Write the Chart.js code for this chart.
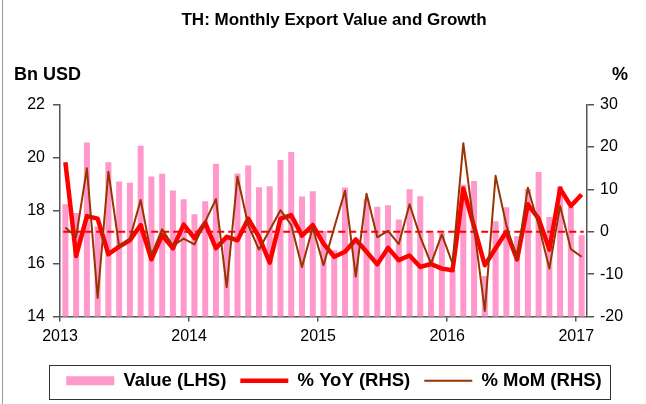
<!DOCTYPE html>
<html>
<head>
<meta charset="utf-8">
<title>TH: Monthly Export Value and Growth</title>
<script src="https://cdn.jsdelivr.net/npm/chart.js@4.4.0/dist/chart.umd.min.js"></script>
<style>
  html, body { margin: 0; padding: 0; background: #fff; }
  #wrap { position: relative; width: 646px; height: 404px; }
  #frame { position: absolute; left: 2px; top: 0; width: 1px; height: 404px; background: #999; }
</style>
</head>
<body>
<div id="wrap">
  <canvas id="chart" width="646" height="404"></canvas>
  <div id="frame"></div>
</div>
<script>
  // monthly categories, Jan 2013 .. Jan 2017
  const months = [
    "Jan-13", "Feb-13", "Mar-13", "Apr-13", "May-13", "Jun-13", "Jul-13", "Aug-13", "Sep-13", "Oct-13", "Nov-13", "Dec-13",
    "Jan-14", "Feb-14", "Mar-14", "Apr-14", "May-14", "Jun-14", "Jul-14", "Aug-14", "Sep-14", "Oct-14", "Nov-14", "Dec-14",
    "Jan-15", "Feb-15", "Mar-15", "Apr-15", "May-15", "Jun-15", "Jul-15", "Aug-15", "Sep-15", "Oct-15", "Nov-15", "Dec-15",
    "Jan-16", "Feb-16", "Mar-16", "Apr-16", "May-16", "Jun-16", "Jul-16", "Aug-16", "Sep-16", "Oct-16", "Nov-16", "Dec-16",
    "Jan-17"
  ];
  const yearLabels = ["2013", "2014", "2015", "2016", "2017"];

  // export value, Bn USD (LHS)
  const exportValue = [
    18.24, 17.91, 20.57, 17.4, 19.83, 19.1, 19.05, 20.45, 19.29, 19.39, 18.76, 18.43,
    17.86, 18.35, 19.77, 17.0, 19.4, 19.7, 18.88, 18.92, 19.91, 20.21, 18.53, 18.73,
    17.23, 16.5, 18.87, 16.8, 18.43, 18.15, 18.2, 17.66, 18.81, 18.54, 17.15, 17.15,
    15.75, 18.98, 19.12, 15.53, 17.6, 18.13, 17.03, 18.82, 19.46, 17.76, 18.92, 18.14,
    17.07
  ];
  // % YoY (RHS)
  const yoy = [
    16.4, -5.7, 3.7, 3.1, -5.3, -3.5, -2.0, 1.6, -6.5, -0.8, -3.9, 1.7,
    -1.5, 2.1, -3.9, -1.2, -2.0, 3.1, -1.2, -7.3, 3.1, 3.9, -0.9, 1.6,
    -2.8, -5.9, -4.7, -1.8, -4.7, -7.7, -3.8, -6.7, -5.6, -8.3, -7.6, -8.7,
    -9.1, 10.2, 1.2, -7.9, -3.9, 0.0, -6.5, 6.5, 3.1, -4.2, 10.2, 6.1,
    8.8
  ];
  // % MoM (RHS)
  const mom = [
    1.0, -1.2, 15.0, -15.6, 14.2, -3.5, -1.6, 7.5, -5.5, 0.6, -3.3, -1.6,
    -3.0, 2.4, 7.7, -13.1, 13.0, 1.6, -4.2, 0.4, 5.1, 1.6, -8.3, 1.0,
    -7.9, 1.0, 9.7, -10.6, 9.0, -1.3, 0.2, -2.9, 6.5, -1.2, -7.5, -0.6,
    -7.5, 20.9, 1.0, -18.7, 13.2, 1.6, -6.5, 10.4, 1.6, -8.7, 6.1, -4.1,
    -5.9
  ];

  const FONT = "'Liberation Sans', Arial, sans-serif";
  const AXIS = "#555";

  // put each month in the middle of its slot so the year ticks fall on January's left edge
  const toPoints = (arr) => arr.map((v, i) => ({ x: i + 0.5, y: v }));

  const zeroLine = {
    id: "zeroLine",
    afterDatasetDraw(chart, args) {
      if (args.index !== 0) return;
      const { ctx, scales } = chart;
      const y = scales.y1.getPixelForValue(0);
      ctx.save();
      ctx.strokeStyle = "#FF0000";
      ctx.lineWidth = 2;
      ctx.setLineDash([7, 4]);
      ctx.beginPath();
      ctx.moveTo(scales.x.getPixelForValue(0.3), y);
      ctx.lineTo(scales.x.getPixelForValue(months.length - 0.3), y);
      ctx.stroke();
      ctx.restore();
    }
  };

  const extras = {
    id: "extras",
    afterDraw(chart) {
      const { ctx, chartArea, legend } = chart;
      ctx.save();
      ctx.fillStyle = "#000";
      ctx.font = "bold 18px " + FONT;
      ctx.textBaseline = "middle";
      ctx.textAlign = "left";
      ctx.fillText("Bn USD", 14, chartArea.top - 30);
      ctx.fillText("%", chartArea.right + 25, chartArea.top - 30);

      // frame round the legend
      const boxes = legend.legendHitBoxes;
      if (boxes && boxes.length) {
        const left = Math.min(...boxes.map((b) => b.left)) - 17;
        const right = Math.max(...boxes.map((b) => b.left + b.width)) + 9;
        const top = boxes[0].top - 7;
        const bottom = boxes[0].top + boxes[0].height + 8;
        ctx.strokeStyle = "#333";
        ctx.lineWidth = 1;
        ctx.strokeRect(Math.round(left) + 0.5, Math.round(top) + 0.5, Math.round(right - left), Math.round(bottom - top));
      }
      ctx.restore();
    }
  };

  new Chart(document.getElementById("chart"), {
    type: "bar",
    data: {
      datasets: [
        {
          type: "bar",
          label: "Value (LHS)",
          data: toPoints(exportValue),
          yAxisID: "y",
          backgroundColor: "#FF99CC",
          borderWidth: 0,
          barPercentage: 0.7,
          categoryPercentage: 0.8,
          order: 3
        },
        {
          type: "line",
          label: "% YoY (RHS)",
          data: toPoints(yoy),
          yAxisID: "y1",
          borderColor: "#FF0000",
          borderWidth: 4.5,
          borderJoinStyle: "round",
          pointRadius: 0,
          tension: 0,
          order: 2
        },
        {
          type: "line",
          label: "% MoM (RHS)",
          data: toPoints(mom),
          yAxisID: "y1",
          borderColor: "#993300",
          borderWidth: 2,
          borderJoinStyle: "round",
          pointRadius: 0,
          tension: 0,
          order: 1
        }
      ]
    },
    options: {
      responsive: false,
      animation: false,
      layout: { padding: { left: 22, right: 0, top: 0, bottom: 4 } },
      plugins: {
        title: {
          display: true,
          text: "TH: Monthly Export Value and Growth",
          color: "#000",
          font: { family: FONT, size: 17, weight: "bold" },
          padding: { top: 10, bottom: 74.3 }
        },
        legend: {
          position: "bottom",
          labels: {
            color: "#000",
            font: { family: FONT, size: 18.5, weight: "bold" },
            usePointStyle: true,
            pointStyleWidth: 48,
            boxHeight: 9,
            padding: 14,
            generateLabels(chart) {
              return chart.data.datasets.map((ds, i) => ({
                text: ds.label,
                datasetIndex: i,
                fillStyle: ds.type === "bar" ? ds.backgroundColor : ds.borderColor,
                strokeStyle: ds.type === "bar" ? ds.backgroundColor : ds.borderColor,
                lineWidth: ds.type === "bar" ? 0 : ds.borderWidth,
                pointStyle: ds.type === "bar" ? "rect" : "line",
                fontColor: "#000",
                hidden: false
              }));
            }
          }
        },
        tooltip: { enabled: false }
      },
      scales: {
        x: {
          type: "linear",
          min: 0,
          max: months.length,
          offset: false,
          afterFit: (s) => { s.height = 41; },
          grid: { drawOnChartArea: false, offset: false, tickLength: 5, color: AXIS, lineWidth: 1.5 },
          border: { color: AXIS, width: 1.5 },
          ticks: {
            stepSize: 12,
            includeBounds: false,
            autoSkip: false,
            maxRotation: 0,
            padding: 5,
            color: "#000",
            font: { family: FONT, size: 16 },
            callback: (v) => yearLabels[v / 12] ?? ""
          }
        },
        y: {
          position: "left",
          min: 14,
          max: 22,
          afterFit: (s) => { s.width = 38; },
          grid: { drawOnChartArea: false, tickLength: 7, color: AXIS, lineWidth: 1.5 },
          border: { color: AXIS, width: 1.5 },
          ticks: { stepSize: 2, padding: 8, color: "#000", font: { family: FONT, size: 16 } }
        },
        y1: {
          position: "right",
          min: -20,
          max: 30,
          afterFit: (s) => { s.width = 59; },
          grid: { drawOnChartArea: false, tickLength: 7, color: AXIS, lineWidth: 1.5 },
          border: { color: AXIS, width: 1.5 },
          ticks: { stepSize: 10, padding: 6, color: "#000", font: { family: FONT, size: 16 } }
        }
      }
    },
    plugins: [zeroLine, extras]
  });
</script>
</body>
</html>
